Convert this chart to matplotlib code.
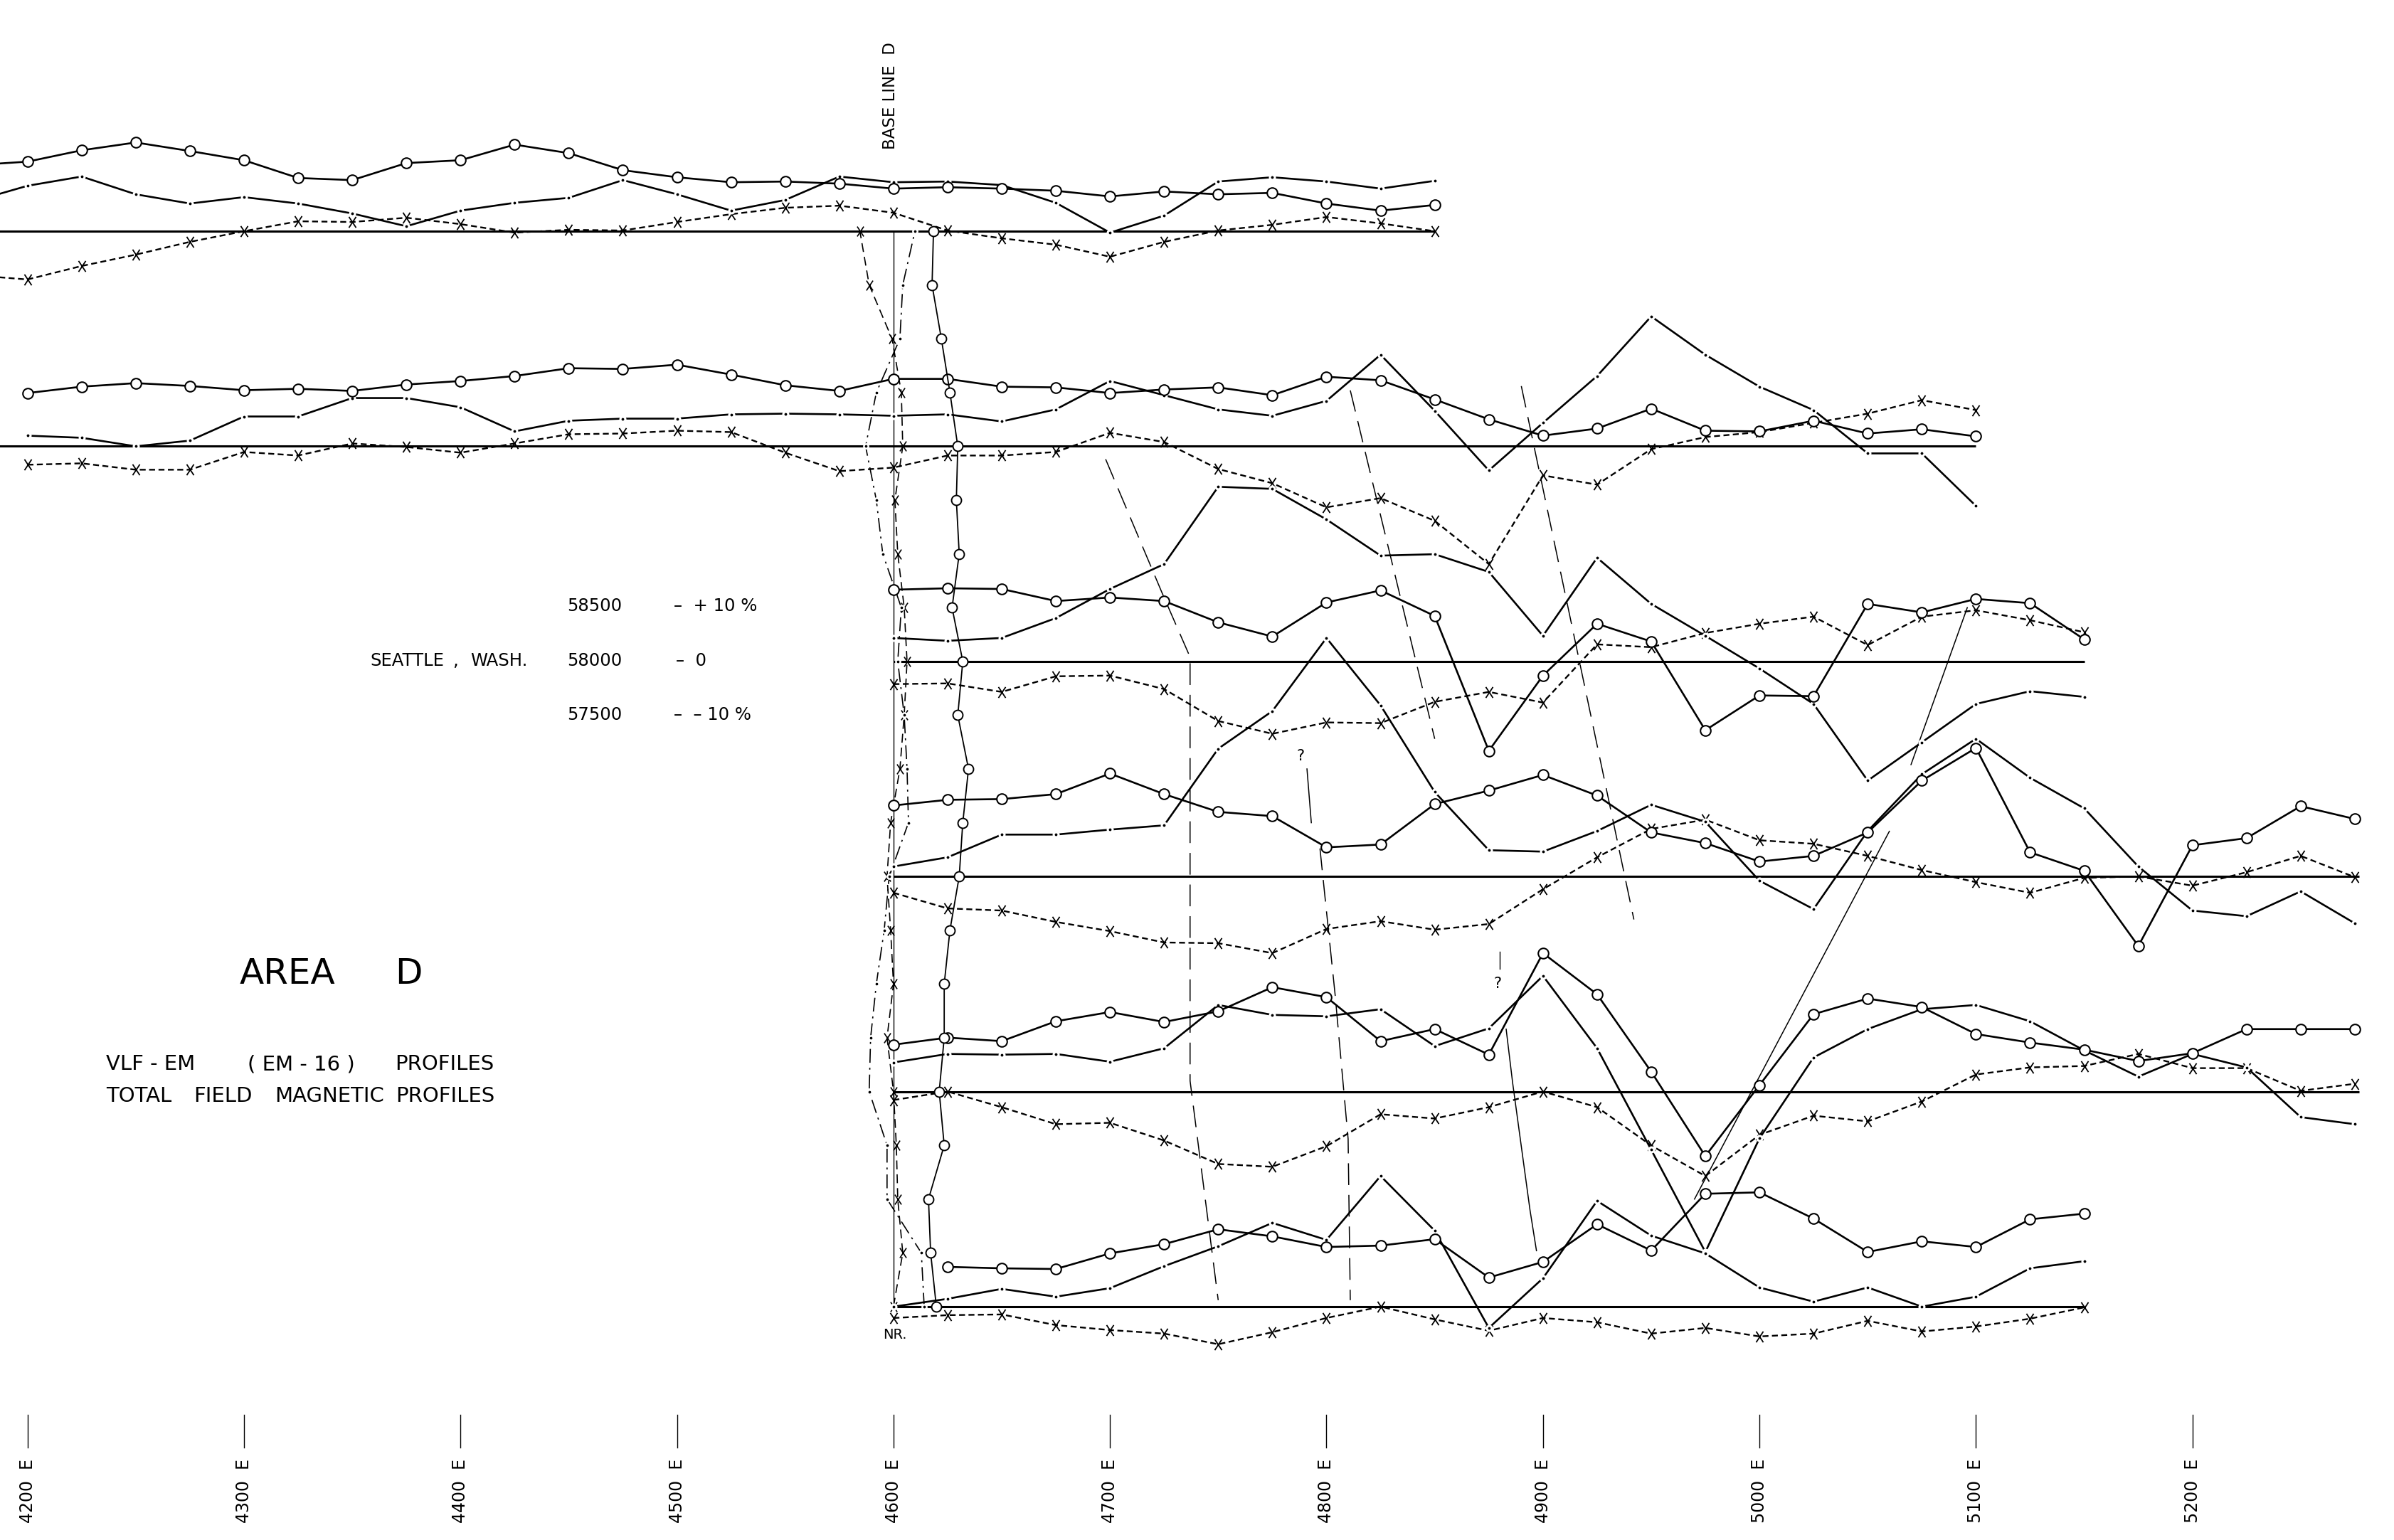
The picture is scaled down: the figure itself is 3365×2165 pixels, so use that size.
import numpy as np
import matplotlib
matplotlib.use("Agg")
import matplotlib.pyplot as plt
from matplotlib.path import Path

plt.rcParams['font.family'] = ['DejaVu Sans']
plt.rcParams['lines.scale_dashes'] = False

# ---------------------------------------------------------------- data
# Station interval (m) and chart scale: deflections are in chart units,
# 1 unit = 1/3.03 m on the map (10 % VLF or 500 gamma = 77 units).
STEP = 25
UNIT = 1 / 3.03

# Line 500N  (VLF in-phase "o", quadrature ".", total field "x")
L500_E = (4175, 4850)
L500_ip = [93, 98, 114, 125, 113, 100, 75, 72, 96, 100, 122, 110, 86, 76, 69, 70, 67, 60, 62, 60, 57, 49, 56, 52, 54, 39, 29, 37]
L500_qd = [42, 64, 77, 52, 39, 48, 39, 25, 7, 29, 40, 47, 72, 52, 29, 44, 77, 69, 70, 65, 40, -2, 22, 70, 76, 70, 60, 71]
L500_mg = [-62, -68, -49, -33, -15, 0, 14, 13, 19, 10, -2, 2, 1, 13, 24, 33, 36, 26, 1, -10, -19, -36, -15, 1, 9, 20, 11, 0]

# Line 400N
L400_E = (4200, 5100)
L400_ip = [75, 84, 89, 85, 79, 81, 78, 87, 92, 99, 110, 109, 115, 101, 86, 78, 95, 95, 84, 83, 75, 80, 83, 72, 98, 93, 66, 38, 15, 25, 53, 22, 21, 36, 18, 24, 14]
L400_qd = [15, 12, 0, 8, 42, 42, 68, 68, 55, 21, 36, 39, 39, 45, 46, 45, 43, 45, 35, 52, 92, 72, 52, 43, 64, 129, 50, -34, 33, 99, 183, 129, 84, 51, -10, -10, -84]
L400_mg = [-26, -24, -33, -33, -8, -13, 4, -1, -9, 4, 17, 18, 22, 20, -9, -35, -30, -13, -13, -8, 19, 6, -32, -52, -86, -73, -105, -166, -41, -54, -4, 13, 20, 33, 46, 65, 51]

# Line 300N
L300_E = (4600, 5150)
L300_ip = [101, 103, 102, 85, 90, 85, 55, 35, 83, 100, 64, -126, -20, 53, 28, -97, -48, -49, 81, 69, 88, 82, 31]
L300_qd = [33, 29, 33, 61, 102, 137, 246, 243, 200, 149, 151, 126, 36, 146, 81, 36, -10, -60, -168, -114, -60, -42, -50]
L300_mg = [-32, -31, -43, -21, -20, -39, -84, -102, -86, -87, -57, -43, -58, 24, 20, 40, 53, 63, 23, 63, 72, 58, 41]

# Line 200N
L200_E = (4600, 5275)
L200_ip = [100, 108, 109, 116, 145, 116, 91, 85, 41, 45, 102, 121, 143, 114, 62, 47, 21, 29, 62, 135, 181, 34, 8, -98, 44, 54, 99, 81]
L200_qd = [14, 27, 59, 59, 66, 72, 180, 233, 336, 241, 119, 37, 35, 64, 101, 77, -6, -46, 64, 144, 194, 139, 96, 14, -48, -56, -21, -66]
L200_mg = [-23, -45, -48, -64, -77, -93, -94, -108, -74, -63, -75, -67, -18, 27, 67, 80, 51, 46, 29, 9, -8, -23, -2, 0, -13, 6, 29, -1]

# Line 100N
L100_E = (4600, 5275)
L100_ip = [66, 76, 71, 99, 112, 98, 113, 147, 133, 71, 88, 52, 195, 137, 28, -91, 9, 109, 131, 119, 81, 69, 59, 43, 54, 88, 88, 88]
L100_qd = [41, 53, 52, 53, 42, 61, 122, 108, 106, 116, 64, 89, 163, 61, -82, -226, -66, 48, 88, 116, 122, 99, 58, 21, 53, 34, -36, -46]
L100_mg = [-12, 0, -22, -46, -44, -69, -102, -106, -77, -32, -38, -22, 0, -22, -76, -119, -61, -34, -42, -14, 24, 34, 36, 53, 33, 33, 1, 11]

# Line 0N
L0_E = (4600, 5150)
L0_ip_E = (4625, 5150)
L0_ip = [56, 54, 53, 75, 88, 109, 99, 84, 86, 95, 41, 63, 116, 79, 159, 161, 124, 77, 92, 84, 123, 131]
L0_qd = [0, 11, 25, 14, 26, 57, 85, 118, 94, 184, 107, -30, 40, 149, 100, 75, 27, 7, 27, 0, 14, 54, 64]
L0_mg = [-16, -12, -11, -26, -33, -38, -53, -36, -16, 0, -18, -34, -16, -22, -38, -30, -42, -38, -20, -35, -28, -17, -1]

# Base line D (4600E), northings 0N .. 500N, deflections east-positive
BL_N = (0, 500)
BL_ip = [60, 52, 49, 71, 64, 71, 71, 79, 92, 97, 105, 90, 97, 82, 92, 88, 90, 79, 67, 54, 56]
BL_qd = [43, 39, -9, -9, -34, -32, -24, -13, -6, 21, 19, 15, 6, 11, -15, -24, -39, -24, 9, 13, 30]
BL_mg = [0, 13, 6, 4, 0, -9, 0, -4, -9, -4, 9, 15, 19, 15, 6, 2, 13, 11, -2, -34, -47]

# survey lines: northing, baseline extent (E)
LINES = [
    (500, (4150, 4850), L500_E, L500_ip, L500_E, L500_qd, L500_mg),
    (400, (4150, 5100), L400_E, L400_ip, L400_E, L400_qd, L400_mg),
    (300, (4600, 5150), L300_E, L300_ip, L300_E, L300_qd, L300_mg),
    (200, (4600, 5277), L200_E, L200_ip, L200_E, L200_qd, L200_mg),
    (100, (4600, 5277), L100_E, L100_ip, L100_E, L100_qd, L100_mg),
    (0,   (4600, 5150), L0_ip_E, L0_ip, L0_E, L0_qd, L0_mg),
]
BASE_E = 4600

# interpreted conductor axes (E, N)
AXIS_A = [(4698, 394), (4724, 332), (4737, 302), (4737, 105), (4750, 3)]
AXIS_B = [(4811, 426), (4850, 264)]
AXIS_C = [(4890, 428), (4942, 180)]
AXIS_D_solid = [(4791, 250), (4793, 225)]
AXIS_D = [(4797, 213), (4804, 145), (4810, 78), (4811, 3)]
AXIS_E = [(4883, 129), (4886, 104), (4894, 45), (4897, 26)]
AXIS_F = [(4970, 50), (5060, 221)]
AXIS_G = [(5070, 252), (5096, 325)]
QMARKS = [(4788, 256), (4879, 150)]

TICKS = [4200, 4300, 4400, 4500, 4600, 4700, 4800, 4900, 5000, 5100, 5200]

# ---------------------------------------------------------------- figure
W, H, DPI = 3365, 2165, 100
fig = plt.figure(figsize=(W / DPI, H / DPI), dpi=DPI, facecolor='white')
ax = fig.add_axes([0, 0, 1, 1])
ax.set_xlim(4187.3, 5293.1)
ax.set_ylim(-108.5, 607.5)
ax.axis('off')

K = 'black'
xm = Path([(-0.33, -0.5), (0.33, 0.5), (-0.33, 0.5), (0.33, -0.5)],
          [Path.MOVETO, Path.LINETO, Path.MOVETO, Path.LINETO])


def stations(rng):
    return np.arange(rng[0], rng[1] + 1, STEP)


def draw_ip(x, y, lw=1.9, ms=10.5):
    ax.plot(x, y, '-', color=K, lw=lw, marker='o', ms=ms, mfc='white',
            mec=K, mew=1.5, zorder=4)


def draw_qd(x, y, lw=1.9, ls='-'):
    ax.plot(x, y, ls=ls, color=K, lw=lw, zorder=3)
    ax.plot(x, y, ls='none', marker='o', ms=5, mfc=K, mec='white', mew=2.2,
            zorder=3.5)


def draw_mg(x, y, lw=1.7, dash=(6, 3.5)):
    ax.plot(x, y, ls=(0, dash), color=K, lw=lw, marker=xm, ms=11,
            mec=K, mew=1.3, zorder=3)


for (N0, ext, ipE, ip, E, qd, mg) in LINES:
    ax.plot(ext, [N0, N0], color=K, lw=2.2, zorder=2, solid_capstyle='butt')
    xs = stations(E)
    draw_qd(xs, N0 + np.array(qd) * UNIT)
    draw_mg(xs, N0 + np.array(mg) * UNIT)
    draw_ip(stations(ipE), N0 + np.array(ip) * UNIT)

# base line D and its profiles
ax.plot([BASE_E, BASE_E], [0, 500], color=K, lw=1.0, zorder=2)
bn = stations(BL_N)
ax.plot(BASE_E + np.array(BL_mg) * UNIT, bn, ls=(0, (9, 5)), color=K,
        lw=1.2, marker=xm, ms=10, mew=1.2, zorder=3)
ax.plot(BASE_E + np.array(BL_qd) * UNIT, bn, ls=(0, (14, 5, 2, 5)), color=K,
        lw=1.2, zorder=3)
ax.plot(BASE_E + np.array(BL_qd) * UNIT, bn, ls='none', marker='o', ms=4.5,
        mfc=K, mec='white', mew=1.8, zorder=3.5)
ax.plot(BASE_E + np.array(BL_ip) * UNIT, bn, '-', color=K, lw=1.3,
        marker='o', ms=10, mfc='white', mec=K, mew=1.4, zorder=4)

# interpreted axes
for path in (AXIS_A, AXIS_B, AXIS_C, AXIS_D):
    px, py = zip(*path)
    ax.plot(px, py, ls=(0, (22, 10)), color=K, lw=1.1, zorder=2.5)
for path in (AXIS_D_solid, AXIS_E, AXIS_F, AXIS_G):
    px, py = zip(*path)
    ax.plot(px, py, '-', color=K, lw=1.1, zorder=2.5)
ax.plot([4880, 4880], [165, 157], color=K, lw=1.0)
for (qe, qn) in QMARKS:
    ax.text(qe, qn, '?', ha='center', va='center', fontsize=15, color=K)

# easting ticks
for t in TICKS:
    ax.plot([t, t], [-50.3, -65.5], color=K, lw=1.0)
    ax.text(t, -85.6, f'{t}  E', rotation=90, ha='center', va='center',
            fontsize=17, color=K)


def ftxt(x, y, s, **kw):
    fig.text(x / W, 1 - y / H, s, color=K, **kw)


ftxt(1252, 135, 'BASE LINE  D', rotation=90, ha='center', va='center', fontsize=16.5)
ftxt(1258, 1877, 'NR.', ha='center', va='center', fontsize=14)

S = 17.5
ftxt(797, 852, '58500', ha='left', va='center', fontsize=S)
ftxt(947, 852, '–  + 10 %', ha='left', va='center', fontsize=S)
ftxt(520, 929, 'SEATTLE', ha='left', va='center', fontsize=S)
ftxt(636, 929, ',', ha='left', va='center', fontsize=S)
ftxt(661, 929, 'WASH.', ha='left', va='center', fontsize=S)
ftxt(797, 929, '58000', ha='left', va='center', fontsize=S)
ftxt(950, 929, '–  0', ha='left', va='center', fontsize=S)
ftxt(797, 1005, '57500', ha='left', va='center', fontsize=S)
ftxt(947, 1005, '–  – 10 %', ha='left', va='center', fontsize=S)

ftxt(337, 1369, 'AREA', ha='left', va='center', fontsize=36)
ftxt(555, 1369, 'D', ha='left', va='center', fontsize=36)
T = 21
for (x, s) in [(149, 'VLF - EM'), (348, '( EM - 16 )'), (555, 'PROFILES')]:
    ftxt(x, 1496, s, ha='left', va='center', fontsize=T)
for (x, s) in [(149, 'TOTAL'), (272, 'FIELD'), (386, 'MAGNETIC'), (556, 'PROFILES')]:
    ftxt(x, 1541, s, ha='left', va='center', fontsize=T)

fig.savefig('out.png', dpi=DPI, facecolor='white')
